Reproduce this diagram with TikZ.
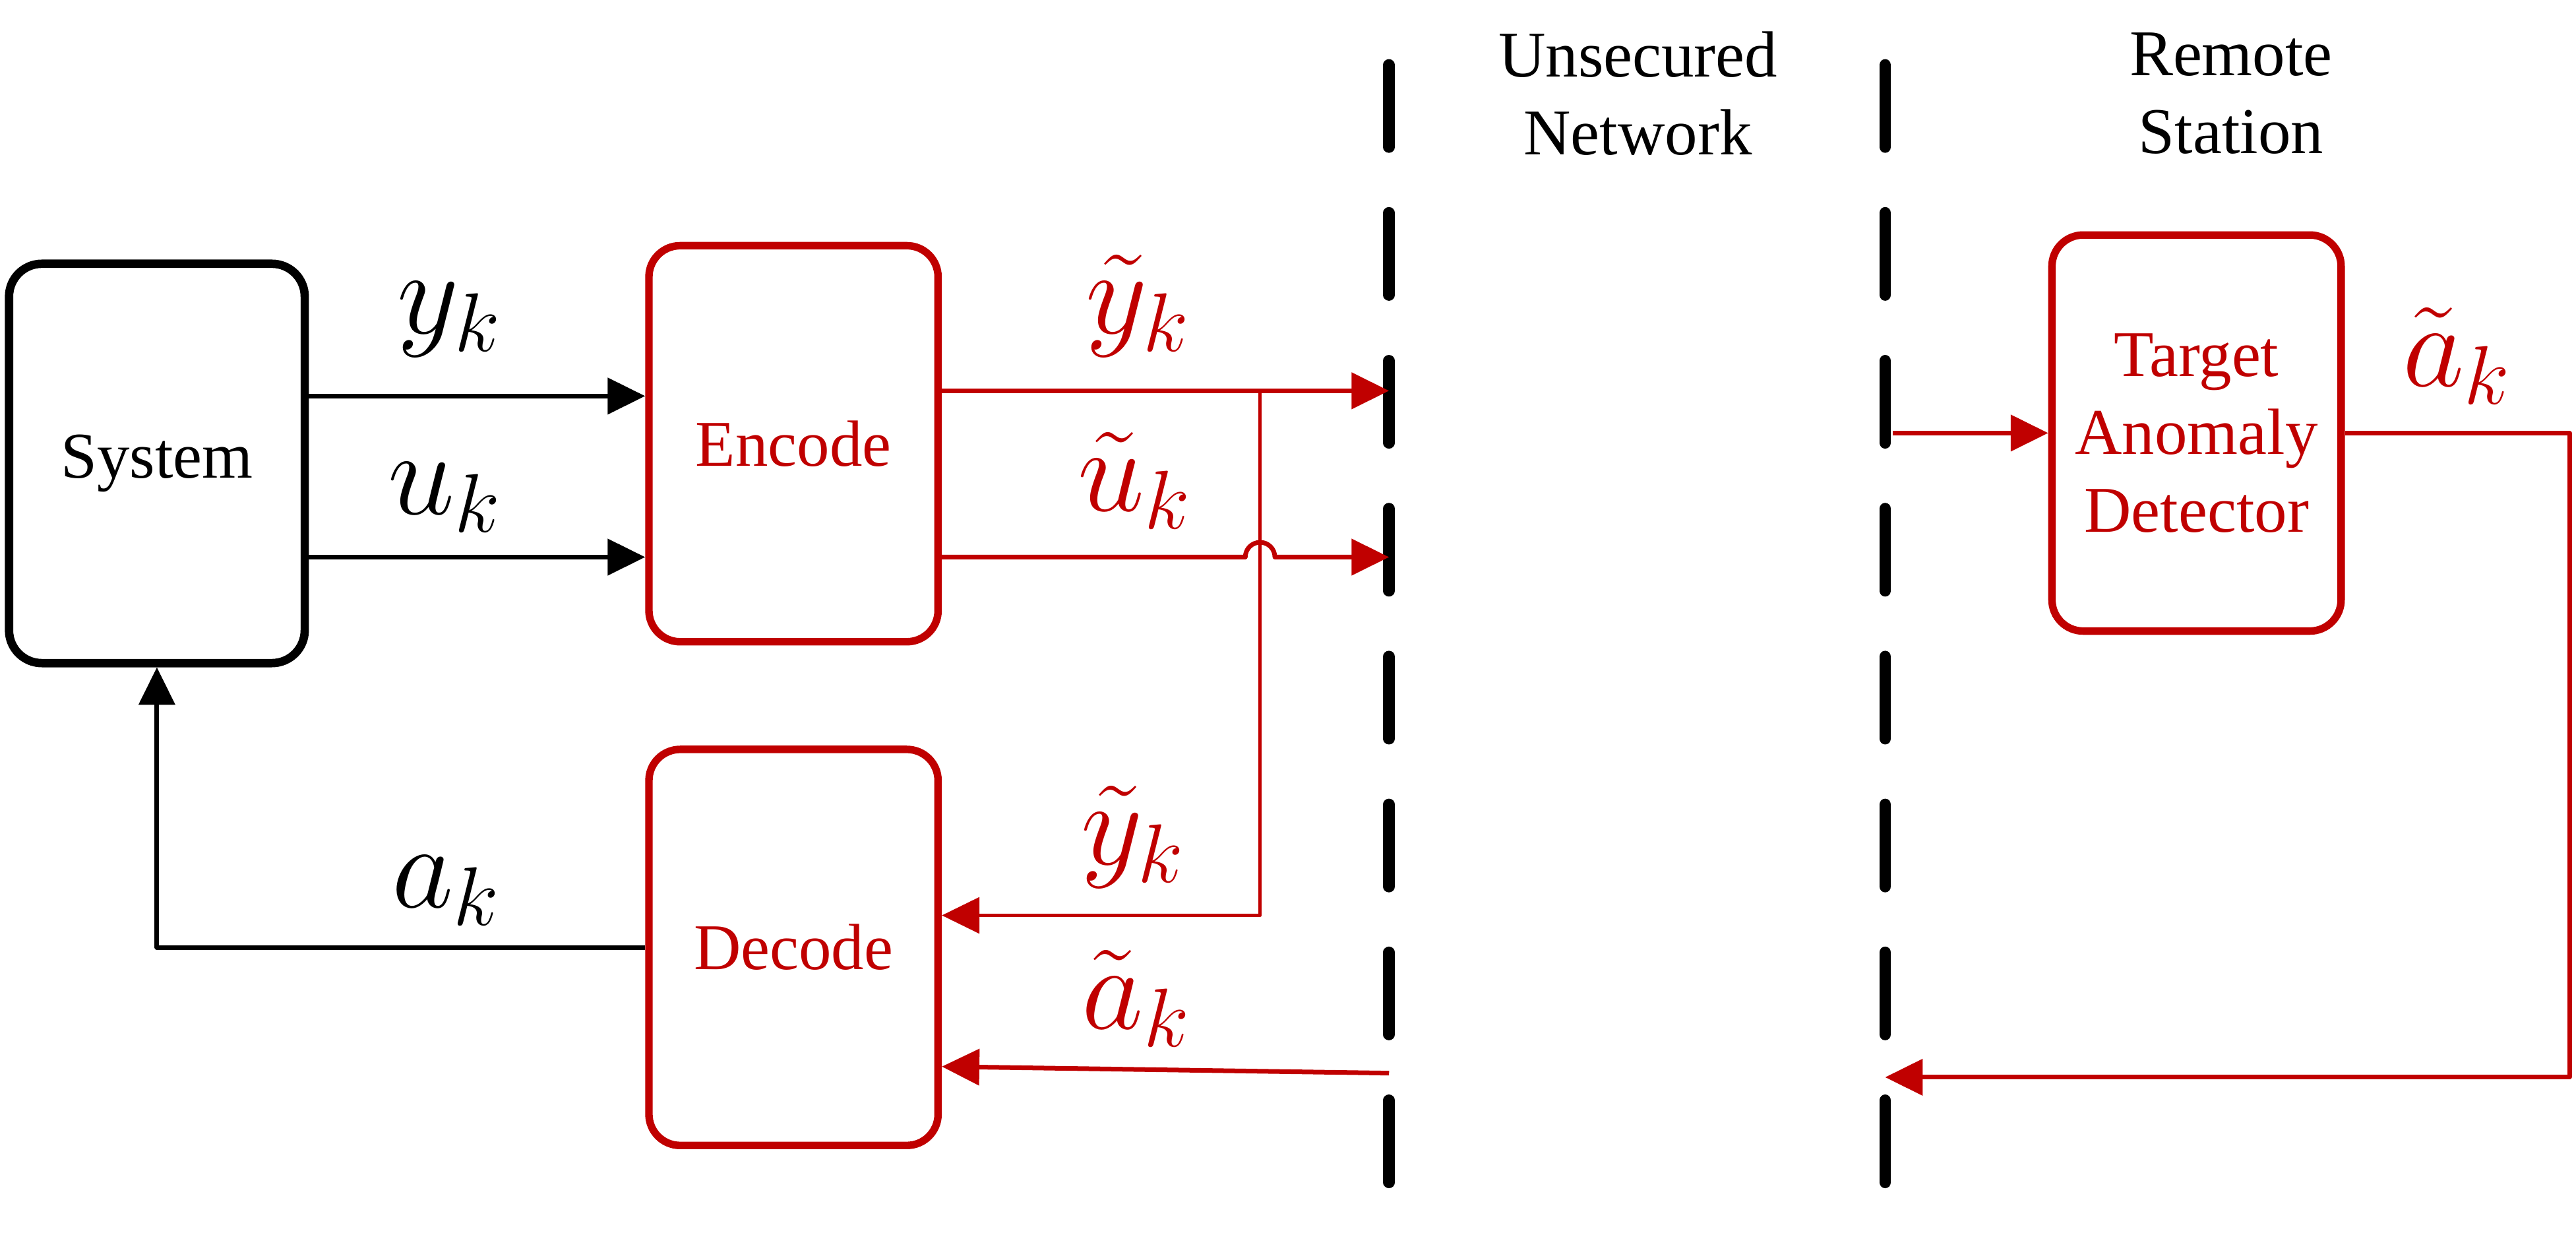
\documentclass[tikz,border=0pt]{standalone}
\usepackage[no-math]{fontspec}
\setmainfont{Liberation Serif}
\usepackage{xcolor}
\usetikzlibrary{arrows.meta,calc}
\definecolor{darkred}{RGB}{192,0,0}

\begin{document}
\begin{tikzpicture}[>={Triangle[length=6.5pt,width=6.2pt]},line join=round,
  blk/.style={draw,rounded corners=0.19cm,minimum width=1.76cm,minimum height=2.41cm,inner sep=0pt,align=center,font=\fontsize{11.3}{13.5}\selectfont},
  sysblk/.style={blk,line width=1.45pt,minimum width=1.80cm,minimum height=2.43cm,rounded corners=0.2cm},
  redblk/.style={blk,draw=darkred,text=darkred,line width=1.3pt},
  sig/.style={->,line width=0.8pt},
  rsig/.style={sig,darkred},
  lbl/.style={anchor=base,inner sep=0pt,font=\fontsize{20.74}{24}\selectfont},
  boundary/.style={line width=2pt,line cap=round,dash pattern=on 0.5cm off 0.4cm},
  title/.style={align=center,font=\fontsize{11.3}{13.5}\selectfont}]
  \useasboundingbox (0,0) rectangle (15.68,7.50);
  \node[sysblk] (sys) at (0.955,4.680) {System};
  \node[redblk] (enc) at (4.830,4.800) {Encode};
  \node[redblk] (dec) at (4.830,1.735) {Decode};
  \node[redblk] (tad) at (13.370,4.865) {Target\\Anomaly\\Detector};
  \coordinate (netTop) at (8.455,7.105);
  \coordinate (netBot) at (8.455,0.305);
  \coordinate (stTop) at (11.475,7.105);
  \coordinate (stBot) at (11.475,0.305);
  \draw[boundary] (netTop) -- (netBot);
  \draw[boundary] (stTop) -- (stBot);
  \node[title] (net) at (9.970,6.930) {Unsecured\\Network};
  \node[title] (stn) at (13.580,6.930) {Remote\\Station};
  \coordinate (yOut) at (8.455,5.122);
  \coordinate (uOut) at (8.455,4.110);
  \coordinate (br) at (7.670,5.122);
  \coordinate (brLow) at (7.670,1.930);
  \coordinate (aIn) at (8.455,0.970);
  \coordinate (tIn) at (11.520,4.865);
  \coordinate (rCorner) at (15.640,0.945);
  \coordinate (aRet) at (11.475,0.945);
  \draw[sig] (sys.east |- 0,5.090) -- (enc.west |- 0,5.090);
  \draw[sig] (sys.east |- 0,4.110) -- (enc.west |- 0,4.110);
  \draw[sig] (dec.west) -| (sys.south);
  \draw[rsig] (enc.east |- yOut) -- (yOut);
  \draw[rsig] (enc.east |- uOut) -- ($(br |- uOut)+(-0.09,0)$) arc[start angle=180,end angle=0,radius=0.09] -- (uOut);
  \draw[rsig,line width=0.6pt] (br) -- (brLow) -- (dec.east |- brLow);
  \draw[rsig] (aIn) -- (dec.east |- 0,1.010);
  \draw[rsig] (tIn) -- (tad.west);
  \draw[rsig] (tad.east) -| (rCorner) -- (aRet);
  \node[lbl] (ly) at (2.740,5.470) {$y_k$};
  \node[lbl] (lu) at (2.710,4.370) {$u_k$};
  \node[lbl] (la) at (2.720,1.980) {$a_k$};
  \node[lbl,darkred] (lyt) at (6.930,5.470) {$\tilde{y}_k$};
  \node[lbl,darkred] (lut) at (6.910,4.390) {$\tilde{u}_k$};
  \node[lbl,darkred] (lyb) at (6.900,2.240) {$\tilde{y}_k$};
  \node[lbl,darkred] (lab) at (6.920,1.240) {$\tilde{a}_k$};
  \node[lbl,darkred] (lar) at (14.960,5.150) {$\tilde{a}_k$};
\end{tikzpicture}
\end{document}
